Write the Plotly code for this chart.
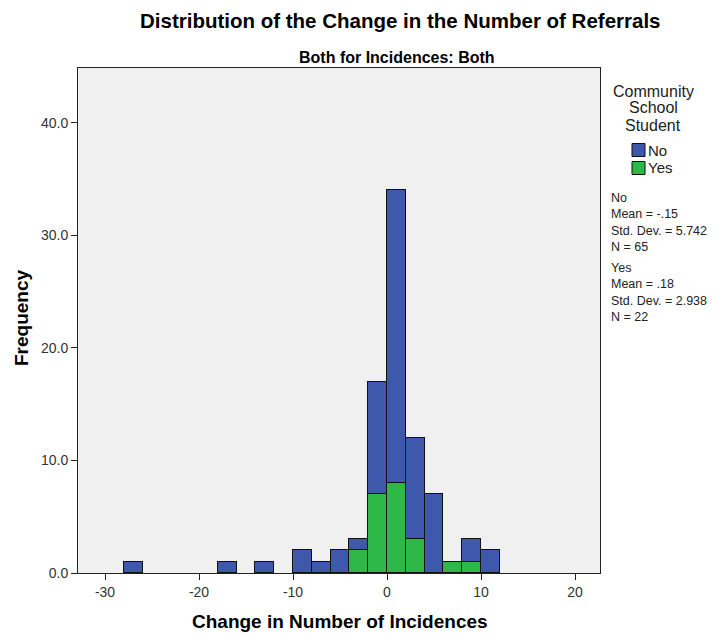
import plotly.graph_objects as go

# ---- data ----
bin_centers = [-27, -17, -13, -9, -7, -5, -3, -1, 1, 3, 5, 7, 9, 11]
no_counts = [1, 1, 1, 2, 1, 2, 1, 10, 26, 9, 7, 0, 2, 2]
yes_counts = [0, 0, 0, 0, 0, 0, 2, 7, 8, 3, 0, 1, 1, 0]
bin_width = 2
groups = ["No", "Yes"]
stats_no = ["No", "Mean = -.15", "Std. Dev. = 5.742", "N = 65"]
stats_yes = ["Yes", "Mean = .18", "Std. Dev. = 2.938", "N = 22"]
x_ticks = [-30, -20, -10, 0, 10, 20]
y_ticks = [0, 10, 20, 30, 40]

BLUE = "#3E58AC"
GREEN = "#2EB848"
FONT = "Liberation Sans, Arial, sans-serif"

# plot area in pixels
L, R, T, B = 78, 600, 68, 573
W, H = 722, 633


def px(x):
    return (x - L) / (R - L)


def py(y):
    return (B - y) / (B - T)


fig = go.Figure()
fig.add_trace(go.Bar(x=bin_centers, y=yes_counts, width=bin_width, name="Yes",
                     marker=dict(color=GREEN, line=dict(color="#111111", width=1)),
                     showlegend=False))
fig.add_trace(go.Bar(x=bin_centers, y=no_counts, width=bin_width, name="No",
                     marker=dict(color=BLUE, line=dict(color="#111111", width=1)),
                     showlegend=False))

ann = []
ann.append(dict(text="<b>Distribution of the Change in the Number of Referrals</b>",
                x=px(400), y=py(21), xref="paper", yref="paper", showarrow=False,
                xanchor="center", yanchor="middle", font=dict(size=20.5, color="#000", family=FONT)))
ann.append(dict(text="<b>Both for Incidences: Both</b>",
                x=px(397), y=py(58), xref="paper", yref="paper", showarrow=False,
                xanchor="center", yanchor="middle", font=dict(size=16, color="#000", family=FONT)))
ann.append(dict(text="<b>Change in Number of Incidences</b>",
                x=px(340), y=py(621), xref="paper", yref="paper", showarrow=False,
                xanchor="center", yanchor="middle", font=dict(size=19, color="#000", family=FONT)))
ann.append(dict(text="<b>Frequency</b>", textangle=-90,
                x=px(21), y=py(318), xref="paper", yref="paper", showarrow=False,
                xanchor="center", yanchor="middle", font=dict(size=19, color="#000", family=FONT)))

# legend title
for i, line in enumerate(["Community", "School", "Student"]):
    ann.append(dict(text=line, x=px(653), y=py(91 + i * 17), xref="paper", yref="paper",
                    showarrow=False, xanchor="center", yanchor="middle",
                    font=dict(size=16, color="#222", family=FONT)))

shapes = []
for i, (g, c) in enumerate(zip(groups, [BLUE, GREEN])):
    cy = 150 + i * 18
    shapes.append(dict(type="rect", xref="paper", yref="paper",
                       x0=px(632), x1=px(645), y0=py(cy + 6.5), y1=py(cy - 6.5),
                       fillcolor=c, line=dict(color="#111", width=1)))
    ann.append(dict(text=g, x=px(646), y=py(cy), xref="paper", yref="paper",
                    showarrow=False, xanchor="left", yanchor="middle",
                    font=dict(size=15, color="#222", family=FONT)))

for block, yc in [(stats_no, 222), (stats_yes, 292)]:
    ann.append(dict(text="<br>".join(block), x=px(610), y=py(yc), xref="paper", yref="paper",
                    showarrow=False, xanchor="left", yanchor="middle", align="left",
                    borderpad=0,
                    font=dict(size=12.5, color="#222", family=FONT)))

x_per_px = 50 / (575 - 105)
x0 = -30 - (105 - L) * x_per_px
x1 = 20 + (R - 575) * x_per_px
y_per_px = 40 / (573 - 122.7)
ytop = (B - T) * y_per_px

fig.update_layout(
    width=W, height=H,
    margin=dict(l=L, r=W - R, t=T, b=H - B, pad=0),
    barmode="stack", bargap=0,
    plot_bgcolor="#F0F0F0", paper_bgcolor="white",
    font=dict(family=FONT, size=12, color="#333"),
    annotations=ann, shapes=shapes, showlegend=False,
    xaxis=dict(range=[x0, x1], tickvals=x_ticks, ticktext=[str(v) for v in x_ticks],
               showgrid=False, zeroline=False, showline=True, linecolor="#222", linewidth=1,
               mirror=True, ticks="outside", ticklen=6, tickcolor="#222",
               tickfont=dict(size=14, color="#333")),
    yaxis=dict(range=[0, ytop], tickvals=y_ticks, ticktext=[f"{v:.1f}" for v in y_ticks],
               showgrid=False, zeroline=False, showline=True, linecolor="#222", linewidth=1,
               mirror=True, ticks="outside", ticklen=6, tickcolor="#222",
               tickfont=dict(size=14, color="#333")),
)

fig.write_html("out.html")
